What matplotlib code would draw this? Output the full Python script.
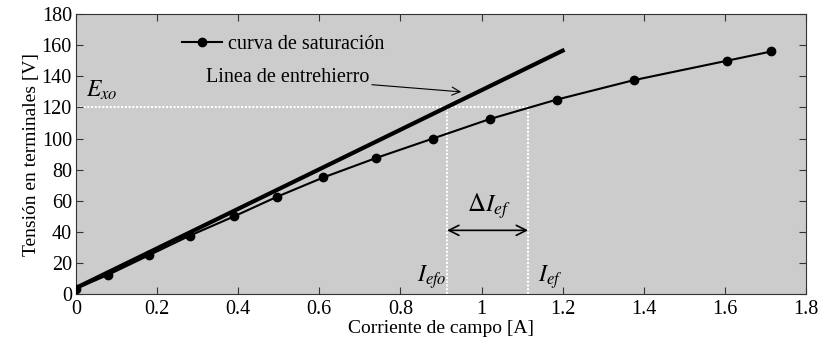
import numpy as np
import matplotlib.pyplot as plt

plt.rcParams['font.family'] = ['Liberation Serif', 'DejaVu Serif']
plt.rcParams['mathtext.fontset'] = 'stix'

# saturation curve
i_f = [0.0, 0.08, 0.18, 0.28, 0.39, 0.495, 0.61, 0.74, 0.88, 1.02, 1.185, 1.375, 1.605, 1.715]
v_t = [3.5, 12.5, 25.0, 37.5, 50.0, 62.5, 75.0, 87.5, 100.0, 112.5, 125.0, 137.5, 150.0, 156.0]

# air-gap line
i_gap = [0.0, 1.2]
v_gap = [4.0, 156.5]

E_xo = 120.0
I_efo = 0.915
I_ef = 1.115

fig = plt.figure(figsize=(8.21, 3.44), dpi=100)
ax = fig.add_axes([0.0926, 0.145, 0.889, 0.814])
ax.set_facecolor('#cccccc')

# white dotted reference lines
dots = dict(color='white', linestyle=(0, (1, 0.8)), linewidth=1.5, zorder=1)
ax.plot([0, I_ef], [E_xo, E_xo], **dots)
ax.plot([I_efo, I_efo], [0, E_xo], **dots)
ax.plot([I_ef, I_ef], [0, E_xo], **dots)

ax.plot(i_gap, v_gap, color='black', linewidth=3, zorder=2)
ax.plot(i_f, v_t, color='black', linewidth=1.5, marker='o', markersize=6,
        label='curva de saturación', zorder=3)

leg = ax.legend(loc='upper left', bbox_to_anchor=(0.12, 0.99), frameon=False,
                fontsize=14.5, handlelength=2.0, handletextpad=0.3)

# annotations
ax.annotate('Linea de entrehierro', xy=(0.95, 130), xytext=(0.32, 139),
            fontsize=14.5, va='center',
            arrowprops=dict(arrowstyle='->', color='black', lw=0.8,
                            shrinkA=0, shrinkB=0))
ax.annotate('', xy=(I_efo, 41), xytext=(I_ef, 41),
            arrowprops=dict(arrowstyle='<->', color='black', lw=1.2,
                            shrinkA=0, shrinkB=0, mutation_scale=18))
ax.text(0.965, 53, r'$\Delta I_{ef}$', fontsize=18)
ax.text(0.025, 127, r'$E_{xo}$', fontsize=17)
ax.text(0.84, 8, r'$I_{efo}$', fontsize=17)
ax.text(1.14, 8, r'$I_{ef}$', fontsize=17)

ax.set_xlim(0, 1.8)
ax.set_ylim(0, 180)
ax.set_xticks(np.arange(0, 1.81, 0.2))
ax.set_xticklabels(['0', '0.2', '0.4', '0.6', '0.8', '1', '1.2', '1.4', '1.6', '1.8'])
ax.set_yticks(np.arange(0, 181, 20))
ax.tick_params(direction='in', top=True, right=True, labelsize=14.5, length=5,
               color='#333333')
ax.tick_params(axis='x', pad=4)
ax.tick_params(axis='y', pad=3)
for s in ax.spines.values():
    s.set_color('#333333')
ax.set_xlabel('Corriente de campo [A]', fontsize=14, labelpad=1)
ax.set_ylabel('Tensión en terminales [V]', fontsize=14, labelpad=1)

fig.savefig('out.png', dpi=100)
